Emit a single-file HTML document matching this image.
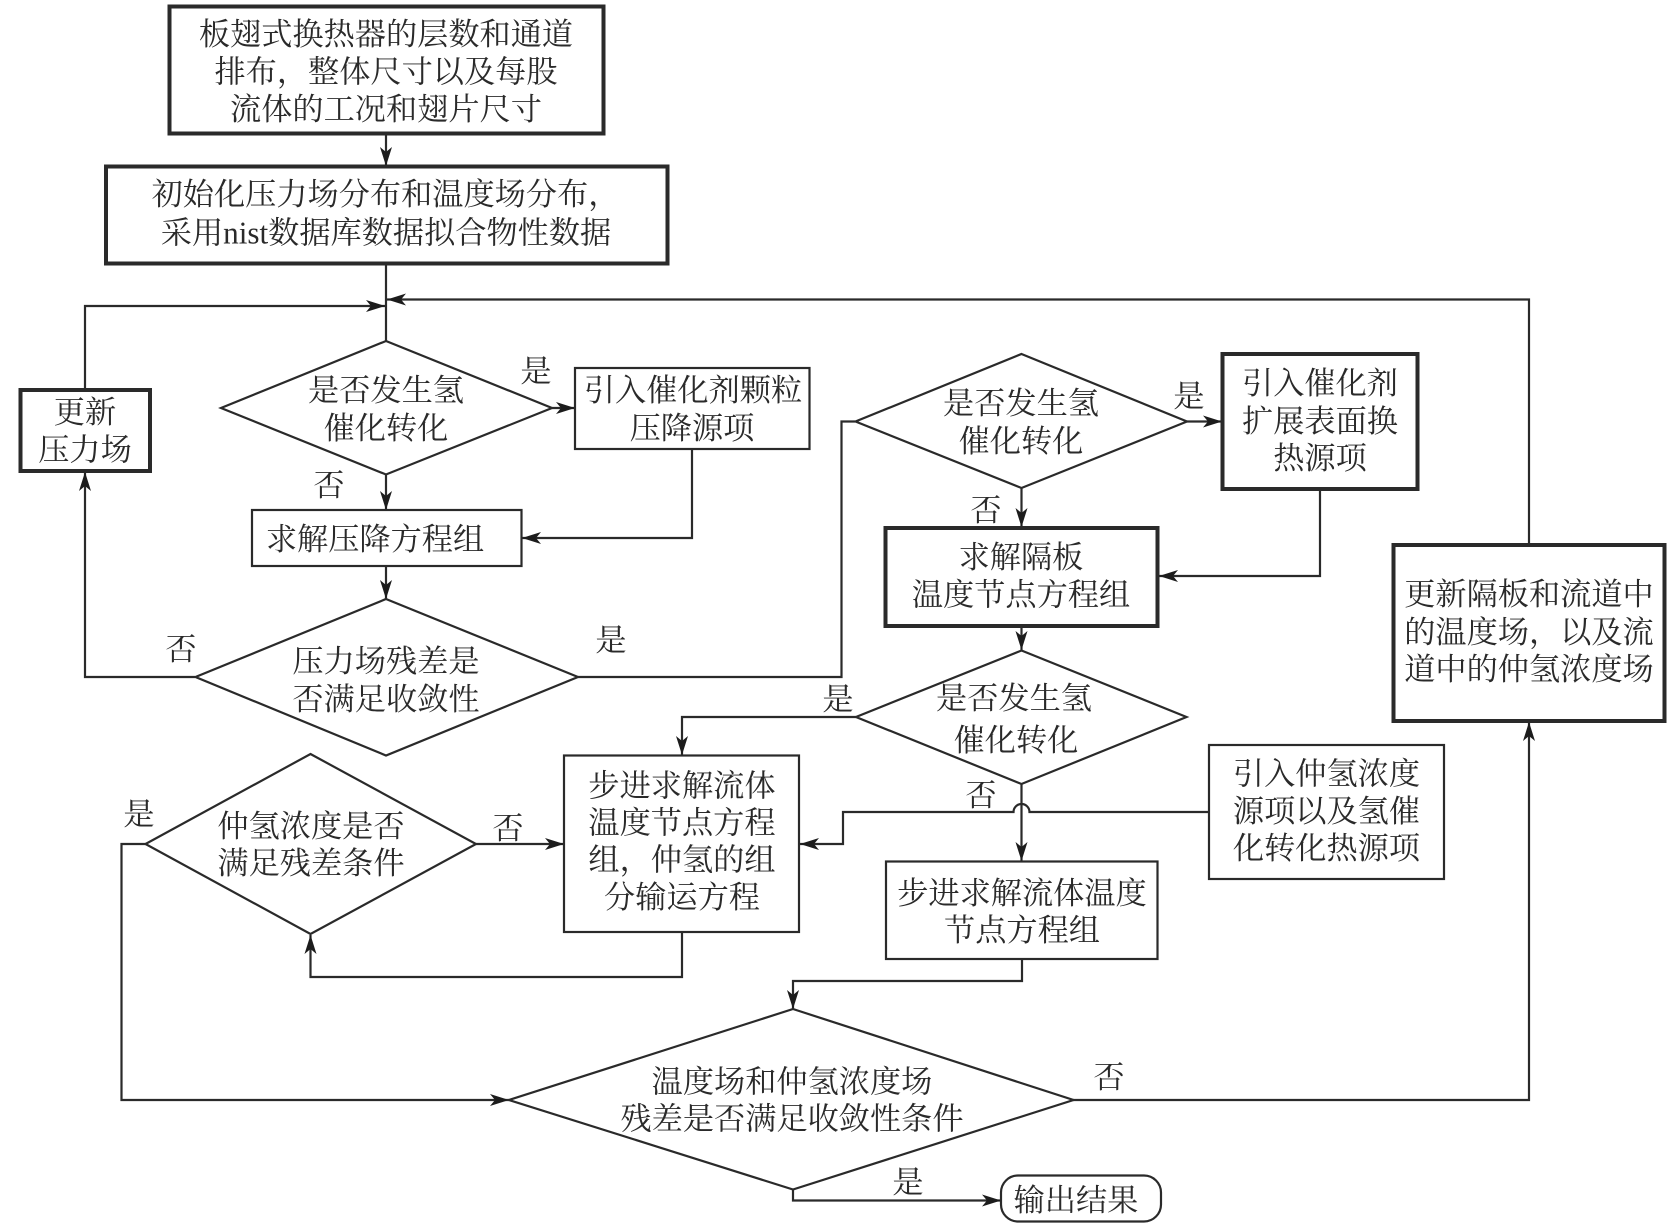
<!DOCTYPE html>
<html lang="zh"><head><meta charset="utf-8"><title>流程图</title>
<style>
html,body{margin:0;padding:0;background:#fff;width:1675px;height:1228px;overflow:hidden}
svg{display:block}
text{font-family:"Liberation Serif","Noto Serif CJK SC",serif;font-size:31.2px;fill:#2a2a2a;text-anchor:middle}
.s{fill:#fff;stroke:#2a2a2a;stroke-width:2.2}
.t{fill:#fff;stroke:#2a2a2a;stroke-width:4}
.l{fill:none;stroke:#2a2a2a;stroke-width:2.2}
.a{marker-end:url(#ah)}
</style></head><body>
<svg width="1675" height="1228" viewBox="0 0 1675 1228" xmlns="http://www.w3.org/2000/svg">
<defs><marker id="ah" markerUnits="userSpaceOnUse" markerWidth="20" markerHeight="14" refX="19" refY="6" orient="auto"><path d="M0,0 L19,6 L0,12 L5,6 Z" fill="#1c1c1c"/></marker></defs>

<!-- connectors -->
<path class="l a" d="M386,134V166"/>
<path class="l" d="M386,264V341"/>
<path class="l a" d="M1529,544V299.5H387"/>
<path class="l a" d="M85,389V306H385"/>
<path class="l a" d="M552,408H575"/>
<path class="l a" d="M386,474V510"/>
<path class="l a" d="M692,449V538H522"/>
<path class="l a" d="M386,566V599"/>
<path class="l a" d="M195,677H85V472"/>
<path class="l" d="M578,677H841.5V421.5H855"/>
<path class="l a" d="M1187,421.5H1222"/>
<path class="l a" d="M1021.500,488V527"/>
<path class="l a" d="M1320,490V576H1159"/>
<path class="l a" d="M1021.500,627V650"/>
<path class="l a" d="M856,717H682V755"/>
<path class="l a" d="M1021.500,784V861"/>
<path class="l a" d="M1209,812H1029.500A8,8 0 0 0 1013.500,812H843V844H800"/>
<path class="l a" d="M476,844H564"/>
<path class="l a" d="M682,932V977H310.5V935"/>
<path class="l a" d="M146,844H121.5V1100H509"/>
<path class="l a" d="M1022,959V981H793V1009"/>
<path class="l a" d="M1073,1100H1529V722"/>
<path class="l a" d="M793,1189V1200.5H1001"/>

<!-- boxes -->
<rect class="t" x="169.500" y="6.500" width="434" height="127"/>
<rect class="t" x="106" y="166.500" width="561.500" height="97"/>
<rect class="t" x="20.500" y="390" width="129.500" height="81"/>
<rect class="s" x="575" y="368" width="234.500" height="81"/>
<rect class="s" x="252" y="510" width="269.500" height="56"/>
<rect class="t" x="1222.500" y="354" width="195" height="135"/>
<rect class="t" x="885.500" y="528" width="272" height="98"/>
<rect class="t" x="1393.500" y="545" width="271" height="176"/>
<rect class="s" x="564" y="755.500" width="235" height="176.500"/>
<rect class="s" x="1209" y="745" width="235" height="134"/>
<rect class="s" x="886" y="861.500" width="271.500" height="97.500"/>
<rect class="s" x="1001" y="1175.500" width="160" height="46" rx="17"/>

<!-- diamonds -->
<polygon class="s" points="386,341 552,408 386,474.500 221,408"/>
<polygon class="s" points="386,599 578,677 386,755.500 195.500,677"/>
<polygon class="s" points="1021.500,354 1187,421.500 1021.500,488 855.500,421.500"/>
<polygon class="s" points="1021.500,650.500 1186.500,717 1021.500,784 856,717"/>
<polygon class="s" points="310.500,754 476,844 310.500,934 145.500,844"/>
<polygon class="s" points="793,1009 1073.500,1100 793,1189.500 509,1100"/>

<!-- text -->
<text x="386" y="45">板翅式换热器的层数和通道</text>
<text x="386" y="82.500">排布，整体尺寸以及每股</text>
<text x="386" y="120">流体的工况和翅片尺寸</text>
<text x="385.500" y="205">初始化压力场分布和温度场分布，</text>
<text x="386" y="243.500">采用nist数据库数据拟合物性数据</text>
<text x="386" y="401">是否发生氢</text>
<text x="386" y="439">催化转化</text>
<text x="693" y="401">引入催化剂颗粒</text>
<text x="692" y="439">压降源项</text>
<text x="536" y="382">是</text>
<text x="329" y="496">否</text>
<text x="85" y="423">更新</text>
<text x="85" y="460.500">压力场</text>
<text x="375" y="550">求解压降方程组</text>
<text x="386" y="672">压力场残差是</text>
<text x="386" y="710">否满足收敛性</text>
<text x="181" y="660">否</text>
<text x="611" y="651">是</text>
<text x="1021" y="414">是否发生氢</text>
<text x="1021" y="452">催化转化</text>
<text x="1189" y="407">是</text>
<text x="986" y="521">否</text>
<text x="1320" y="394">引入催化剂</text>
<text x="1320" y="432">扩展表面换</text>
<text x="1320" y="469">热源项</text>
<text x="1021" y="568">求解隔板</text>
<text x="1021" y="605.500">温度节点方程组</text>
<text x="1529" y="605">更新隔板和流道中</text>
<text x="1529" y="643">的温度场，以及流</text>
<text x="1529" y="680">道中的仲氢浓度场</text>
<text x="1014" y="709">是否发生氢</text>
<text x="1016" y="751">催化转化</text>
<text x="838" y="710">是</text>
<text x="981" y="806">否</text>
<text x="1326.500" y="784.500">引入仲氢浓度</text>
<text x="1326.500" y="822">源项以及氢催</text>
<text x="1326.500" y="859">化转化热源项</text>
<text x="1022" y="904">步进求解流体温度</text>
<text x="1022" y="941">节点方程组</text>
<text x="682" y="796.500">步进求解流体</text>
<text x="682" y="833.500">温度节点方程</text>
<text x="682" y="870.500">组，仲氢的组</text>
<text x="682" y="908">分输运方程</text>
<text x="311" y="837">仲氢浓度是否</text>
<text x="311" y="874">满足残差条件</text>
<text x="139" y="825">是</text>
<text x="508" y="839">否</text>
<text x="792" y="1092.500">温度场和仲氢浓度场</text>
<text x="792" y="1129.500">残差是否满足收敛性条件</text>
<text x="1109" y="1088">否</text>
<text x="908" y="1193">是</text>
<text x="1076" y="1211">输出结果</text>
</svg>
</body></html>
